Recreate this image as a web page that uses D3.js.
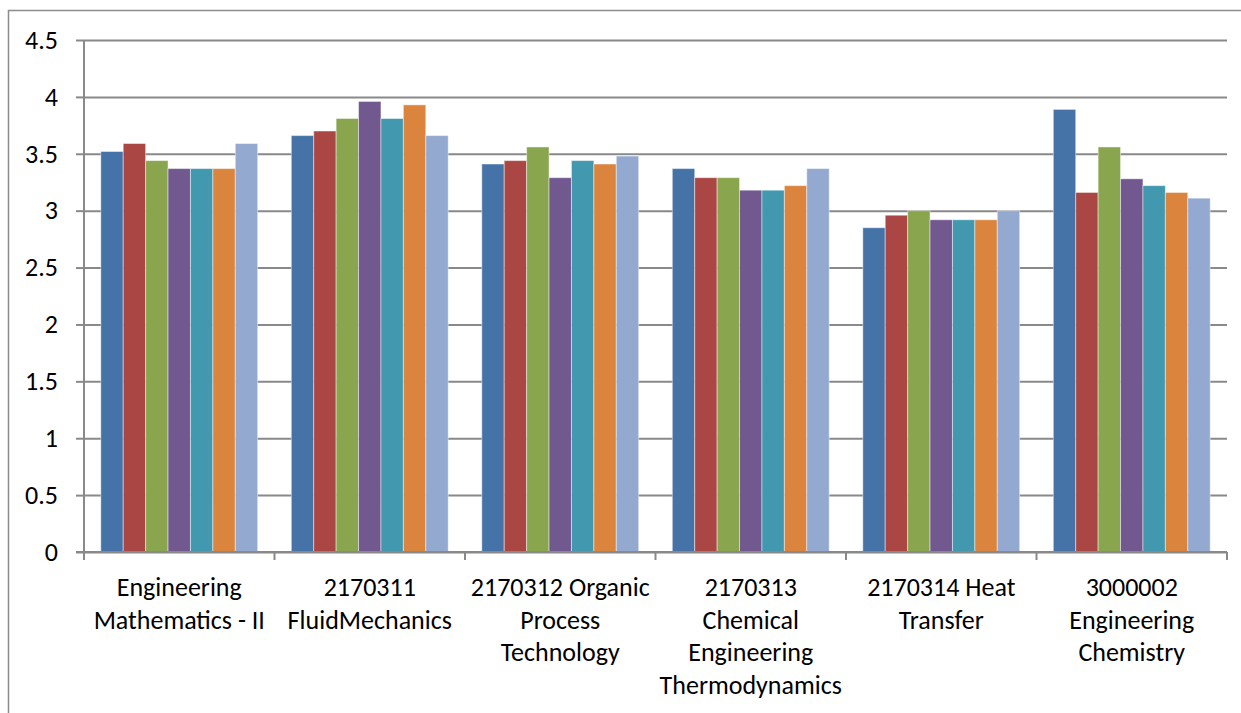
<!DOCTYPE html>
<html>
<head>
<meta charset="utf-8">
<script src="https://cdn.jsdelivr.net/npm/d3@7/dist/d3.min.js"></script>
<style>
  body { margin: 0; background: #fff; }
  text { font-family: Carlito, Calibri, "Open Sans", sans-serif; fill: #000; }
</style>
</head>
<body>
<div id="chart"></div>
<script>
// category labels, "\n" marks where the label wraps
var categories = [
  "Engineering\nMathematics - II",
  "2170311\nFluidMechanics",
  "2170312 Organic\nProcess\nTechnology",
  "2170313\nChemical\nEngineering\nThermodynamics",
  "2170314 Heat\nTransfer",
  "3000002\nEngineering\nChemistry"
]

var series1 = [3.52, 3.66, 3.41, 3.37, 2.85, 3.89]
var series2 = [3.59, 3.70, 3.44, 3.29, 2.96, 3.16]
var series3 = [3.44, 3.81, 3.56, 3.29, 3.00, 3.56]
var series4 = [3.37, 3.96, 3.29, 3.18, 2.92, 3.28]
var series5 = [3.37, 3.81, 3.44, 3.18, 2.92, 3.22]
var series6 = [3.37, 3.93, 3.41, 3.22, 2.92, 3.16]
var series7 = [3.59, 3.66, 3.48, 3.37, 3.00, 3.11]

var yTicks = [0, 0.5, 1, 1.5, 2, 2.5, 3, 3.5, 4, 4.5]

var allSeries = [series1, series2, series3, series4, series5, series6, series7]
var colors = ["#4572A7", "#AA4643", "#89A54E", "#71588F", "#4198AF", "#DB843D", "#93A9CF"]

var W = 1241, H = 713
var plotLeft = 84, plotRight = 1227, plotTop = 40, plotBottom = 552
var fontSize = 26

var svg = d3.select("#chart").append("svg")
    .attr("width", W)
    .attr("height", H)

// chart border (runs off the right and bottom like the picture)
svg.append("rect")
    .attr("x", 8.5).attr("y", 10.5)
    .attr("width", W).attr("height", H)
    .attr("fill", "none")
    .attr("stroke", "#8c8c8c")
    .attr("stroke-width", 1.5)

var x0 = d3.scaleBand()
    .domain(categories)
    .range([plotLeft, plotRight])
    .padding(0)

// 150% gap between groups
var bw = x0.bandwidth()
var barW = bw / 8.5
var x1 = d3.scaleBand()
    .domain(d3.range(allSeries.length))
    .range([barW * 0.75, bw - barW * 0.75])
    .padding(0)

var y = d3.scaleLinear()
    .domain([0, 4.5])
    .range([plotBottom, plotTop])

// gridlines
svg.append("g")
    .attr("transform", "translate(" + plotLeft + ",0)")
    .call(d3.axisLeft(y).tickValues(yTicks).tickSize(-(plotRight - plotLeft)).tickFormat(""))
    .call(function (g) { g.select(".domain").remove() })
    .selectAll("line")
    .attr("stroke", "#898989")
    .attr("stroke-width", 2)

// bars
var groups = svg.append("g")
    .selectAll("g")
    .data(categories)
    .enter().append("g")
    .attr("transform", function (d) { return "translate(" + x0(d) + ",0)" })

groups.selectAll("rect")
    .data(function (d, i) {
      return allSeries.map(function (s, k) { return { k: k, v: s[i] } })
    })
    .enter().append("rect")
    .attr("x", function (d) { return x1(d.k) })
    .attr("width", x1.bandwidth())
    .attr("y", function (d) { return y(d.v) })
    .attr("height", function (d) { return y(0) - y(d.v) })
    .attr("fill", function (d) { return colors[d.k] })
    .attr("stroke", "#fff")
    .attr("stroke-opacity", 0.45)
    .attr("stroke-width", 1)

// y axis
var yAxis = svg.append("g")
    .attr("transform", "translate(" + plotLeft + ",0)")
    .call(d3.axisLeft(y).tickValues(yTicks).tickSize(8).tickPadding(18).tickFormat(String))
yAxis.select(".domain").remove()
yAxis.selectAll("line").attr("stroke", "#898989").attr("stroke-width", 2)
yAxis.selectAll("text")
    .attr("font-size", fontSize)
    .attr("font-family", null)
    .attr("fill", "#000")

svg.append("line")
    .attr("x1", plotLeft).attr("x2", plotLeft)
    .attr("y1", plotTop).attr("y2", plotBottom + 8)
    .attr("stroke", "#898989")
    .attr("stroke-width", 2)

// x axis line and boundary ticks
svg.append("line")
    .attr("x1", plotLeft - 8).attr("x2", plotRight)
    .attr("y1", plotBottom).attr("y2", plotBottom)
    .attr("stroke", "#898989")
    .attr("stroke-width", 2)

var bounds = categories.map(function (c) { return x0(c) }).concat([plotRight])
svg.append("g").selectAll("line")
    .data(bounds)
    .enter().append("line")
    .attr("x1", function (d) { return d }).attr("x2", function (d) { return d })
    .attr("y1", plotBottom).attr("y2", plotBottom + 8)
    .attr("stroke", "#898989")
    .attr("stroke-width", 2)

// category labels
var labels = svg.append("g").selectAll("text")
    .data(categories)
    .enter().append("text")
    .attr("text-anchor", "middle")
    .attr("font-size", fontSize)
    .attr("x", function (d) { return x0(d) + bw / 2 })
    .attr("y", 596)

labels.selectAll("tspan")
    .data(function (d) { return d.split("\n") })
    .enter().append("tspan")
    .attr("x", function () { return d3.select(this.parentNode).attr("x") })
    .attr("dy", function (d, i) { return i == 0 ? 0 : 32.6 })
    .text(function (d) { return d })
</script>
</body>
</html>
